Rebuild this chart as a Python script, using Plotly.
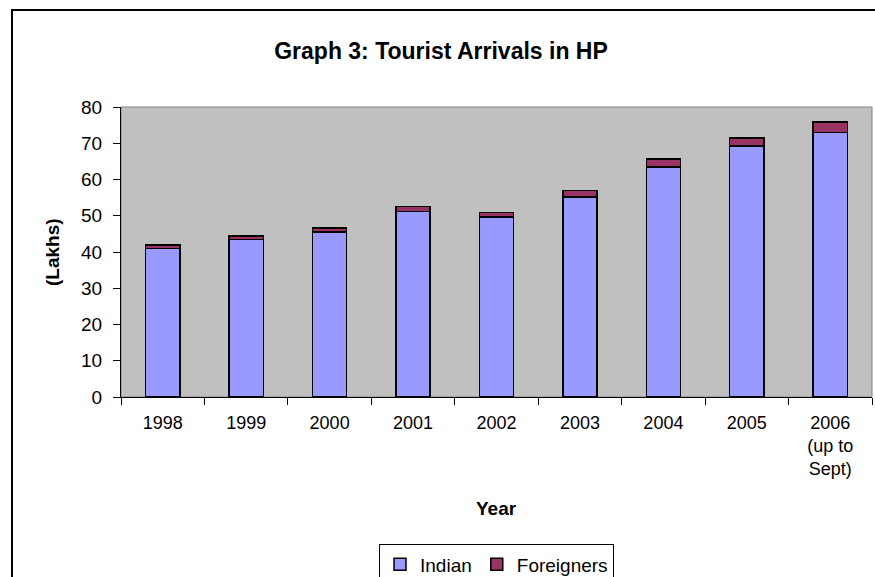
import plotly.graph_objects as go

years = ["1998", "1999", "2000", "2001", "2002", "2003", "2004", "2005", "2006<br>(up to<br>Sept)"]
indian = [41.0, 43.4, 45.5, 51.2, 49.6, 55.2, 63.5, 69.3, 72.9]
foreigners = [0.9, 1.0, 1.1, 1.4, 1.3, 1.8, 2.2, 2.2, 3.0]

FONT = "Liberation Sans, Arial, sans-serif"

fig = go.Figure()
fig.add_trace(go.Bar(name="Indian", x=years, y=indian,
                     marker=dict(color="#9999FF", line=dict(color="black", width=1.5))))
fig.add_trace(go.Bar(name="Foreigners", x=years, y=foreigners,
                     marker=dict(color="#993366", line=dict(color="black", width=1.5))))

fig.update_layout(
    width=875, height=577,
    margin=dict(l=121, r=3, t=107, b=180, autoexpand=False),
    barmode="stack", bargap=0.59,
    paper_bgcolor="white", plot_bgcolor="#C0C0C0",
    font=dict(family=FONT, size=18, color="black"),
    title=dict(text="<b>Graph 3: Tourist Arrivals in HP</b>", x=0.504, xanchor="center",
               y=0.912, yanchor="middle", font=dict(size=23)),
    showlegend=True,
    legend=dict(orientation="h", x=0.5, xanchor="center", y=-0.508, yanchor="top",
                bordercolor="black", borderwidth=1, bgcolor="white", traceorder="normal",
                font=dict(size=19)),
    xaxis=dict(showline=True, linecolor="black", linewidth=1, ticks="outside",
               tickson="boundaries", ticklen=7, tickcolor="black", showgrid=False,
               tickfont=dict(size=18), automargin=False, ticklabelstandoff=9),
    yaxis=dict(range=[0, 80], dtick=10, showline=True, linecolor="black", linewidth=1,
               ticks="outside", ticklen=7, tickcolor="black", showgrid=False,
               zeroline=False, tickfont=dict(size=19), automargin=False, ticklabelstandoff=7),
    shapes=[
        dict(type="rect", xref="paper", yref="paper", x0=0, x1=1, y0=0, y1=1,
             line=dict(color="#808080", width=1), layer="below"),
        dict(type="line", xref="paper", yref="paper", x0=(11 - 121) / 751, x1=(876 - 121) / 751,
             y0=(397 - 10) / 290, y1=(397 - 10) / 290, line=dict(color="black", width=2)),
        dict(type="line", xref="paper", yref="paper", x0=(12 - 121) / 751, x1=(12 - 121) / 751,
             y0=(397 - 10) / 290, y1=(397 - 580) / 290, line=dict(color="black", width=2)),
    ],
    annotations=[
        dict(text="<b>Year</b>", xref="paper", yref="paper", x=0.5, y=(397 - 508) / 290,
             showarrow=False, font=dict(size=19), xanchor="center", yanchor="middle"),
        dict(text="<b>(Lakhs)</b>", xref="paper", yref="paper", x=(52 - 121) / 751, y=(397 - 252) / 290,
             showarrow=False, textangle=-90, font=dict(size=19), xanchor="center", yanchor="middle"),
    ],
)

fig.write_html("out.html")
